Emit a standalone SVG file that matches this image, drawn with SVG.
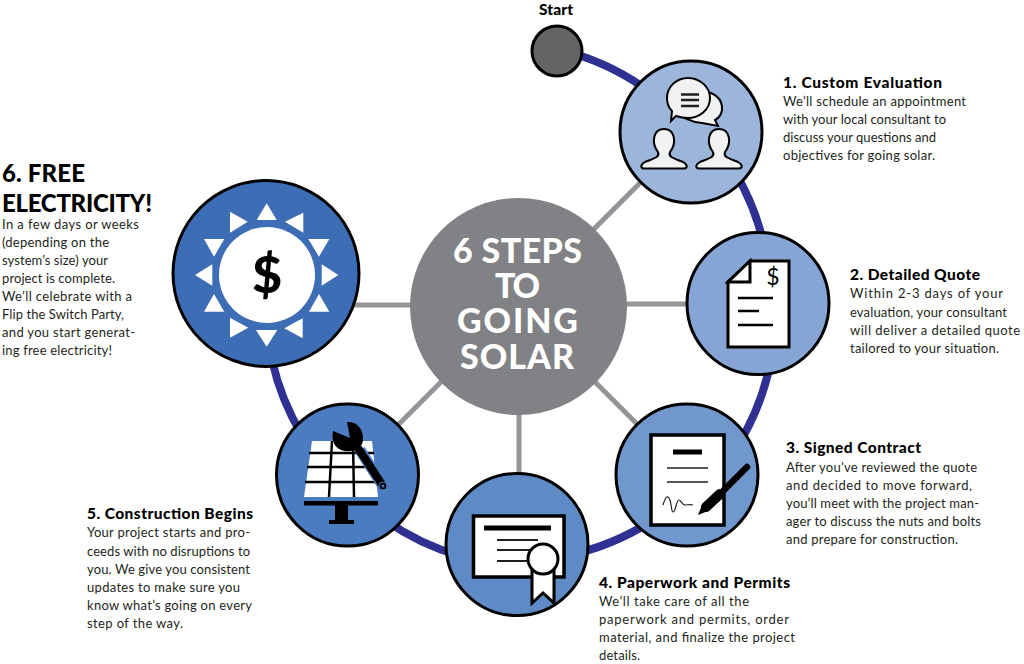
<svg xmlns="http://www.w3.org/2000/svg" width="1024" height="664" viewBox="0 0 1024 664">
<style>
text{font-family:"Lato","Liberation Sans",sans-serif;fill:#231f20}
.t{font-size:15.5px;font-weight:900;fill:#000}
.b{font-size:13px}
.big{font-size:24px;font-weight:900;fill:#000}
.c{font-size:34px;font-weight:900;fill:#fff}
.n{stroke:#000;stroke-width:3}
.w{fill:#fff;stroke:#000;stroke-width:3}
.l{stroke:#000;fill:none;stroke-width:2.5}
.arc{fill:none;stroke:#2e3192;stroke-width:8}
.sp{stroke:#939598;stroke-width:5;fill:none}
.s{fill:#f1f2f2;stroke:#000;stroke-width:2}
</style>
<defs>
<path id="p" class="s" d="M-6,152C-13,143-11,129 0,129C11,129 13,143 6,152C4,157 9,158 19,162C24,165 24,168.500 19,168.500L-19,168.500C-24,168.500-24,165-19,162C-9,158-4,157-6,152Z"/>
</defs>
<g id="connectors">
<line class="sp" x1="518" y1="305" x2="691" y2="132"/>
<line class="sp" x1="518" y1="304" x2="758" y2="304"/>
<line class="sp" x1="518" y1="305" x2="687" y2="474"/>
<line class="sp" x1="519" y1="305" x2="519" y2="544"/>
<line class="sp" x1="518" y1="305" x2="348" y2="475"/>
<line class="sp" x1="266" y1="305" x2="518" y2="305"/>
<path class="arc" d="M575,54A250,250 0 0 1 650,92"/>
<path class="arc" d="M735,172A255,255 0 0 1 764,245"/>
<path class="arc" d="M770,365A255,255 0 0 1 735,450"/>
<path class="arc" d="M650,522A255,255 0 0 1 570,555"/>
<path class="arc" d="M460,556A255,255 0 0 1 385,520"/>
<path class="arc" d="M302,435A250,250 0 0 1 272,360"/>
</g>
<g id="center"><circle cx="518.500" cy="306.500" r="108.500" fill="#808285"/>
<text class="c"><tspan x="453" y="263" textLength="129">6 STEPS</tspan><tspan x="495" y="298" textLength="45">TO</tspan><tspan x="457" y="333" textLength="121">GOING</tspan><tspan x="460" y="369" textLength="114">SOLAR</tspan></text></g>
<g id="start"><circle class="n" cx="557" cy="51" r="25" fill="#636466"/>
<text x="539" y="15" textLength="34" style="font-size:15.5px;font-weight:900;fill:#000">Start</text></g>
<g id="step1"><circle class="n" cx="691" cy="132" r="71" fill="#9bb5db"/>
<path class="s" d="M700,91C714,91 723,99 722,110C721,116 717,119 715,120L718,126L702,123C692,122 680,118 678,110Z"/>
<path class="s" d="M688,78C700,78 710,87 710,98C710,110 699,118 688,118C683,118 679,117 676,116L671,121L672,111C668,107 667,103 667,98C667,87 676,78 688,78Z"/>
<path d="M681,94.500H699M681,100H699M681,106H699" stroke="#231f20" stroke-width="2.500" fill="none"/>
<use href="#p" x="664"/><use href="#p" x="719"/>
<text class="t" x="783" y="88" textLength="159">1. Custom Evaluation</text>
<text class="b" x="783" y="106" textLength="183">We’ll schedule an appointment</text>
<text class="b" x="783" y="124" textLength="163">with your local consultant to</text>
<text class="b" x="783" y="142" textLength="153">discuss your questions and</text>
<text class="b" x="783" y="160" textLength="152">objectives for going solar.</text></g>
<g id="step2"><circle class="n" cx="758" cy="303.500" r="71" fill="#86a5d4"/>
<path class="w" d="M750,261H789V347H728V282Z"/><path class="w" d="M750,261V282H728Z"/>
<text x="773" y="285" text-anchor="middle" style="font-size:23px;fill:#000">$</text>
<path class="l" d="M738,298H773M738,311H759M738,325H773"/>
<text class="t" x="850" y="280" textLength="130">2. Detailed Quote</text>
<text class="b" x="850" y="298" textLength="153">Within 2-3 days of your</text>
<text class="b" x="850" y="316.500" textLength="157">evaluation, your consultant</text>
<text class="b" x="850" y="334.500" textLength="170">will deliver a detailed quote</text>
<text class="b" x="850" y="352.500" textLength="149">tailored to your situation.</text></g>
<g id="step3"><circle class="n" cx="687" cy="475" r="71" fill="#7098cd"/>
<rect x="651" y="435" width="73" height="90" fill="#fff" stroke="#000" stroke-width="3.500"/>
<path d="M673,452H702" stroke="#000" stroke-width="5"/>
<path d="M667,468H708M667,482H708" stroke="#231f20" stroke-width="1.500"/>
<path d="M663,505C665,498 667,495 669,498C672,503 671,512 673,512C676,512 676,500 679,500C681,500 682,505 685,505C688,505 690,504 693,505" fill="none" stroke="#231f20" stroke-width="1.200"/>
<path d="M698,515L702,505L708,511Z" fill="#000"/>
<path d="M706,507L720,494" stroke="#000" stroke-width="10" stroke-linecap="round"/>
<path d="M724,490L747,467" stroke="#000" stroke-width="6.500" stroke-linecap="round"/>
<text class="t" x="786" y="453" textLength="135">3. Signed Contract</text>
<text class="b" x="786" y="472" textLength="191">After you’ve reviewed the quote</text>
<text class="b" x="786" y="490" textLength="186">and decided to move forward,</text>
<text class="b" x="786" y="508" textLength="193">you’ll meet with the project man-</text>
<text class="b" x="786" y="526" textLength="195">ager to discuss the nuts and bolts</text>
<text class="b" x="786" y="543.500" textLength="172">and prepare for construction.</text></g>
<g id="step4"><circle class="n" cx="517" cy="544.500" r="71" fill="#5e8ac6"/>
<rect x="473.500" y="516" width="90.500" height="61" fill="#fff" stroke="#000" stroke-width="3.500"/>
<path d="M484,528H551" stroke="#000" stroke-width="5"/>
<path d="M497,540H538M497,550H530M497,561H530" stroke="#231f20" stroke-width="1.800"/>
<path class="w" d="M532,570V603L543,593L554,603V570Z"/>
<circle class="w" cx="543" cy="559" r="15"/>
<text class="t" x="599" y="588" textLength="191">4. Paperwork and Permits</text>
<text class="b" x="599" y="606" textLength="150">We’ll take care of all the</text>
<text class="b" x="599" y="624" textLength="190">paperwork and permits, order</text>
<text class="b" x="599" y="642" textLength="196">material, and finalize the project</text>
<text class="b" x="599" y="660" textLength="41">details.</text></g>
<g id="step5"><circle class="n" cx="347.500" cy="475" r="71" fill="#4a7cbf"/>
<path d="M312,441H372L378,497H304Z" fill="#fff"/>
<path d="M309,453H374M307,467H376M305,482H378M332,441L329,497M353,441L354,497" stroke="#000" stroke-width="2.500" fill="none"/>
<path d="M304,501H378V505.500H348V520H354V524H329V520H335V505.500H304Z" fill="#000"/>
<path d="M333,431L350,438L347,422C358,421 364,431 363,440C362,450 352,452 345,451C335,450 331,441 333,431Z" fill="#000"/>
<path d="M360,450L383,486" stroke="#4a7cbf" stroke-width="11"/>
<path d="M358,448L383,486" stroke="#000" stroke-width="8"/>
<circle cx="383" cy="486" r="4" fill="#000" stroke="#4a7cbf" stroke-width="1"/><circle cx="383" cy="486" r="1.500" fill="#4a7cbf"/>
<text class="t" x="87" y="519" textLength="166">5. Construction Begins</text>
<text class="b" x="87" y="537" textLength="163">Your project starts and pro-</text>
<text class="b" x="87" y="556" textLength="163">ceeds with no disruptions to</text>
<text class="b" x="87" y="574" textLength="163">you. We give you consistent</text>
<text class="b" x="87" y="592" textLength="153">updates to make sure you</text>
<text class="b" x="87" y="610" textLength="165">know what’s going on every</text>
<text class="b" x="87" y="628" textLength="96">step of the way.</text></g>
<g id="step6"><circle class="n" cx="266" cy="273.500" r="93" fill="#3d6db5"/>
<circle cx="267" cy="275" r="48" fill="#fff"/>
<path fill="#fff" d="M266.700,203.300L256.700,220H276.700ZM303.300,212.700V232.700L285,221.700ZM308.300,239H329.300L319,256.700ZM338.300,275L321.700,264.300V285.700ZM319,294L309,311.700H329.300ZM302.700,318.300V338.300L284.300,328.300ZM256,330H277.300L266.700,346.700ZM230,317.700V337.700L248.300,327.700ZM214,294L204,311.700H224.300ZM195,275L212.300,264.300V285.700ZM204,239H224.300L214,256.700ZM230,211.700V232.700L247.700,221.700Z"/>
<text x="267" y="293" text-anchor="middle" style="font-size:52px;font-weight:900;fill:#000">$</text>
<text class="big" x="2" y="182" textLength="83">6. FREE</text>
<text class="big" x="2" y="212" textLength="150">ELECTRICITY!</text>
<text class="b" x="2" y="229" textLength="137">In a few days or weeks</text>
<text class="b" x="2" y="247" textLength="107">(depending on the</text>
<text class="b" x="2" y="265" textLength="106">system’s size) your</text>
<text class="b" x="2" y="283" textLength="113">project is complete.</text>
<text class="b" x="2" y="301" textLength="130">We’ll celebrate with a</text>
<text class="b" x="2" y="319" textLength="122">Flip the Switch Party,</text>
<text class="b" x="2" y="337" textLength="133">and you start generat-</text>
<text class="b" x="2" y="355" textLength="110">ing free electricity!</text></g>
</svg>
